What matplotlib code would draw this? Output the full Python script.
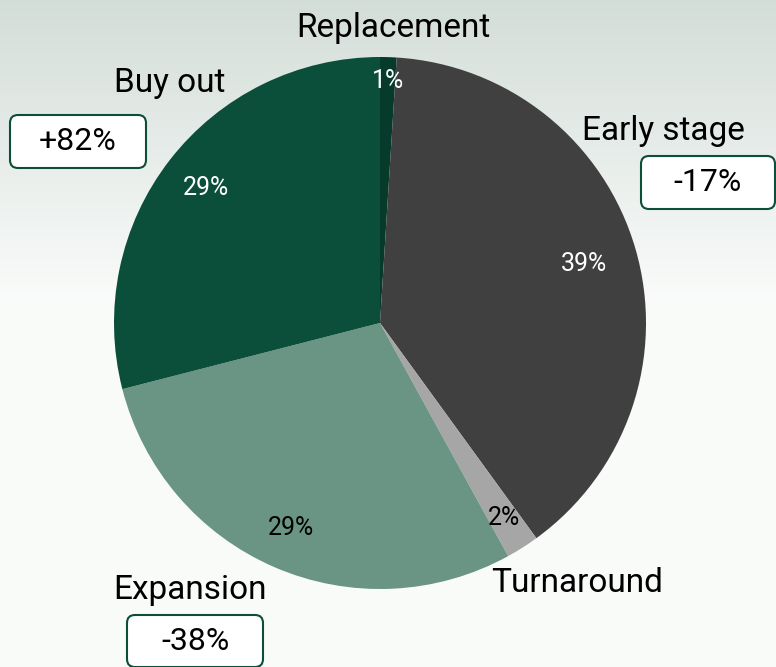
import numpy as np
import matplotlib.pyplot as plt
from matplotlib.patches import FancyBboxPatch

plt.rcParams['font.family'] = ['Roboto', 'DejaVu Sans']

categories = ['Replacement', 'Early stage', 'Turnaround', 'Expansion', 'Buy out']
shares = [1, 39, 2, 29, 29]
pct_labels = ['1%', '39%', '2%', '29%', '29%']
changes = [None, '-17%', None, '-38%', '+82%']
colors = ['#063a2b', '#404040', '#a6a6a6', '#6a9484', '#0b4f3a']
pct_colors = ['white', 'white', 'black', 'black', 'white']
pct_dist = [0.91, 0.80, 0.87, 0.84, 0.83]

# layout in pixel coords (y from bottom)
W, H = 776, 667
cx, cy, R = 380, H - 323, 266
label_pos = [(393, H - 28), (663, H - 131), (577, H - 583), (190, H - 590), (170, H - 83)]
box_pos = [None, (641, H - 209, 134, 53), None, (127, H - 667, 136, 52), (10, H - 168, 136, 53)]

fig = plt.figure(figsize=(7.76, 6.67), dpi=100)

# faded background
bg = fig.add_axes([0, 0, 1, 1])
grad = np.linspace(0, 1, 256)
bg_img = np.ones((256, 256, 3))
top = np.array([0.83, 0.87, 0.85])
fade = np.clip(grad / 0.45, 0, 1)[:, None]
bg_img[:] = (top * (1 - fade) + np.array([0.98, 0.985, 0.98]) * fade)[:, None, :]
bg.imshow(bg_img, aspect='auto', extent=[0, 1, 0, 1])
bg.axis('off')

ax = fig.add_axes([0, 0, 1, 1])
ax.set_xlim(0, W)
ax.set_ylim(0, H)
ax.set_aspect('equal')
ax.axis('off')

wedges, _ = ax.pie(shares, colors=colors, startangle=90, counterclock=False,
                   center=(cx, cy), radius=R, wedgeprops=dict(linewidth=0))
ax.set_xlim(0, W)
ax.set_ylim(0, H)

for w, lab, col, d in zip(wedges, pct_labels, pct_colors, pct_dist):
    ang = np.deg2rad((w.theta1 + w.theta2) / 2)
    ax.text(cx + d * R * np.cos(ang), cy + d * R * np.sin(ang), lab,
            ha='center', va='center', fontsize=18, color=col)

for name, (x, y) in zip(categories, label_pos):
    ax.text(x, y, name, ha='center', va='center', fontsize=24, color='black')

for ch, b in zip(changes, box_pos):
    if ch is None:
        continue
    x0, y0, bw, bh = b
    ax.add_patch(FancyBboxPatch((x0, y0), bw, bh, boxstyle='round,pad=0,rounding_size=8',
                                facecolor='white', edgecolor='#0b4f3a', linewidth=1.5,
                                clip_on=False))
    ax.text(x0 + bw / 2, y0 + bh / 2, ch, ha='center', va='center', fontsize=23)

fig.savefig('out.png', dpi=100)
